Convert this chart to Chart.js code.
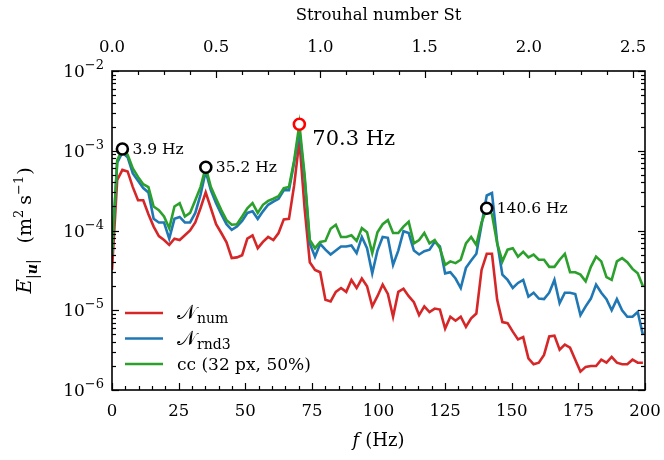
<!DOCTYPE html>
<html>
<head>
<meta charset="utf-8">
<script src="https://cdn.jsdelivr.net/npm/chart.js@4.4.0/dist/chart.umd.min.js"></script>
<style>
  html, body { margin: 0; padding: 0; background: #fff; }
</style>
</head>
<body>
<canvas id="spectrum" width="664" height="460"></canvas>
<script>
// spectral bin spacing of the PSD (Hz)
const binWidth = 500 / 256;
const hzPerSt = 78.2;

// energy spectra E_|u| per bin, starting at 0 Hz
const eNum = [
  3.2e-5, 4.3e-4, 5.75e-4, 5.5e-4, 3.5e-4, 2.4e-4, 2.4e-4, 1.6e-4, 1.12e-4, 8.5e-5,
  7.6e-5, 6.6e-5, 7.9e-5, 7.6e-5, 8.7e-5, 1.0e-4, 1.26e-4, 1.9e-4, 3.0e-4, 1.9e-4,
  1.2e-4, 9.3e-5, 7.1e-5, 4.5e-5, 4.6e-5, 4.9e-5, 7.9e-5, 8.7e-5, 6.0e-5, 7.2e-5,
  8.3e-5, 7.6e-5, 9.3e-5, 1.38e-4, 1.4e-4, 3.7e-4, 1.35e-3, 1.9e-4, 4.0e-5, 3.2e-5,
  3.0e-5, 1.35e-5, 1.29e-5, 1.7e-5, 1.9e-5, 1.7e-5, 2.4e-5, 1.9e-5, 2.5e-5, 2.0e-5,
  1.12e-5, 1.5e-5, 2.1e-5, 1.6e-5, 8.3e-6, 1.7e-5, 1.86e-5, 1.5e-5, 1.26e-5, 8.7e-6,
  1.12e-5, 9.5e-6, 1.05e-5, 1.02e-5, 5.9e-6, 8.3e-6, 7.4e-6, 8.3e-6, 6.2e-6, 7.9e-6,
  9.1e-6, 3.2e-5, 5.1e-5, 5.1e-5, 1.35e-5, 7.1e-6, 6.9e-6, 5.4e-6, 4.3e-6, 4.6e-6,
  2.5e-6, 2.1e-6, 2.2e-6, 2.75e-6, 4.7e-6, 4.8e-6, 3.2e-6, 3.7e-6, 3.4e-6, 2.4e-6,
  1.7e-6, 1.95e-6, 2.0e-6, 2.0e-6, 2.4e-6, 2.2e-6, 2.6e-6, 2.2e-6, 2.1e-6, 2.1e-6,
  2.4e-6, 2.2e-6, 2.2e-6
];
const eRnd3 = [
  5.0e-5, 7.1e-4, 9.5e-4, 8.3e-4, 5.2e-4, 4.2e-4, 3.4e-4, 3.0e-4, 1.4e-4, 1.26e-4,
  1.26e-4, 7.9e-5, 1.4e-4, 1.48e-4, 1.26e-4, 1.26e-4, 1.66e-4, 2.8e-4, 5.5e-4, 3.2e-4,
  2.2e-4, 1.6e-4, 1.2e-4, 1.02e-4, 1.12e-4, 1.32e-4, 1.66e-4, 1.74e-4, 1.4e-4, 1.74e-4,
  2.1e-4, 2.3e-4, 2.5e-4, 3.2e-4, 3.2e-4, 7.1e-4, 1.8e-3, 4.5e-4, 6.9e-5, 4.7e-5,
  6.8e-5, 5.75e-5, 5.0e-5, 5.6e-5, 6.3e-5, 6.3e-5, 6.5e-5, 5.2e-5, 8.3e-5, 6.0e-5,
  2.9e-5, 5.6e-5, 8.3e-5, 8.1e-5, 3.7e-5, 5.6e-5, 9.8e-5, 9.3e-5, 5.6e-5, 5.0e-5,
  5.5e-5, 5.75e-5, 7.2e-5, 6.3e-5, 2.9e-5, 3.0e-5, 2.5e-5, 1.9e-5, 3.4e-5, 4.2e-5,
  5.1e-5, 1.18e-4, 2.75e-4, 2.95e-4, 7.1e-5, 2.8e-5, 2.4e-5, 1.9e-5, 2.2e-5, 2.4e-5,
  1.48e-5, 1.66e-5, 1.4e-5, 1.38e-5, 1.66e-5, 2.4e-5, 1.23e-5, 1.66e-5, 1.66e-5, 1.6e-5,
  8.7e-6, 1.12e-5, 1.4e-5, 2.1e-5, 1.66e-5, 1.38e-5, 1.0e-5, 1.38e-5, 1.0e-5, 8.3e-6,
  8.3e-6, 9.5e-6, 4.9e-6
];
const eCC = [
  5.0e-5, 7.6e-4, 1.05e-3, 8.9e-4, 6.0e-4, 4.7e-4, 3.8e-4, 3.5e-4, 2.0e-4, 1.8e-4,
  1.5e-4, 1.07e-4, 2.0e-4, 2.2e-4, 1.5e-4, 1.66e-4, 2.4e-4, 3.5e-4, 6.2e-4, 3.5e-4,
  2.5e-4, 1.8e-4, 1.35e-4, 1.18e-4, 1.2e-4, 1.5e-4, 1.9e-4, 2.2e-4, 1.66e-4, 2.1e-4,
  2.35e-4, 2.5e-4, 2.7e-4, 3.4e-4, 3.5e-4, 7.6e-4, 2.15e-3, 5.0e-4, 7.6e-5, 6.0e-5,
  7.2e-5, 7.4e-5, 1.05e-4, 1.18e-4, 8.3e-5, 8.3e-5, 8.7e-5, 7.4e-5, 1.07e-4, 9.5e-5,
  5.2e-5, 9.5e-5, 1.2e-4, 1.35e-4, 9.3e-5, 9.3e-5, 1.12e-4, 1.29e-4, 6.9e-5, 7.6e-5,
  9.3e-5, 6.9e-5, 7.6e-5, 6.0e-5, 3.7e-5, 4.1e-5, 3.9e-5, 4.3e-5, 6.9e-5, 8.3e-5,
  6.6e-5, 1.26e-4, 1.9e-4, 1.6e-4, 6.9e-5, 4.1e-5, 5.75e-5, 6.0e-5, 4.7e-5, 5.4e-5,
  4.6e-5, 5.0e-5, 4.3e-5, 4.3e-5, 3.5e-5, 3.5e-5, 4.3e-5, 5.1e-5, 3.0e-5, 3.0e-5,
  2.8e-5, 2.3e-5, 3.5e-5, 4.7e-5, 4.1e-5, 2.6e-5, 2.4e-5, 4.1e-5, 4.5e-5, 4.0e-5,
  3.3e-5, 2.9e-5, 2.0e-5
];

// highlighted peaks
const peakFreqs = [3.9, 35.2, 70.3, 140.6];
const peakValues = [1.05e-3, 6.2e-4, 2.15e-3, 1.9e-4];
const peakLabels = ['3.9 Hz', '35.2 Hz', '70.3 Hz', '140.6 Hz'];
const peakColors = ['#000000', '#000000', '#ff0000', '#000000'];

// axis ticks
const hzTicks = [0, 25, 50, 75, 100, 125, 150, 175, 200];
const stTicks = [0, 0.5, 1.0, 1.5, 2.0, 2.5];
const decadeExps = [-2, -3, -4, -5, -6];

const freqs = eNum.map((_, i) => i * binWidth);
const toXY = arr => arr.map((v, i) => ({ x: freqs[i], y: v }));

const SERIF = '"DejaVu Serif", "Liberation Serif", serif';
const RED = '#d62728', BLUE = '#1f77b4', GREEN = '#2ca02c';

// draw a run of text pieces, each with its own font and vertical offset
function drawRuns(ctx, runs, x, y) {
  let cx = x;
  for (const r of runs) {
    ctx.font = r.font;
    ctx.fillText(r.t, cx, y + (r.dy || 0));
    cx += ctx.measureText(r.t).width + (r.gap || 0);
  }
  return cx - x;
}
function runsWidth(ctx, runs) {
  let w = 0;
  for (const r of runs) { ctx.font = r.font; w += ctx.measureText(r.t).width + (r.gap || 0); }
  return w;
}

const framePlugin = {
  id: 'frame',
  afterDraw(chart) {
    const ctx = chart.ctx;
    const { left, right, top, bottom } = chart.chartArea;
    const xs = chart.scales.x, st = chart.scales.x2, ys = chart.scales.y;
    ctx.save();
    ctx.strokeStyle = '#000';
    ctx.fillStyle = '#000';

    // ticks, pointing inward
    ctx.lineWidth = 1.2;
    const seg = (x1, y1, x2, y2) => { ctx.beginPath(); ctx.moveTo(x1, y1); ctx.lineTo(x2, y2); ctx.stroke(); };
    for (let f = 0; f <= 200; f += 5) {
      const px = Math.round(xs.getPixelForValue(f)) + 0.5;
      seg(px, bottom, px, bottom - (f % 25 === 0 ? 7 : 4));
    }
    for (let s = 0; s <= st.max + 1e-9; s += 0.125) {
      const px = Math.round(st.getPixelForValue(s)) + 0.5;
      const major = Math.abs(s / 0.5 - Math.round(s / 0.5)) < 1e-6;
      seg(px, top, px, top + (major ? 7 : 4));
    }
    for (let e = -6; e <= -2; e++) {
      for (let m = 1; m <= 9; m++) {
        const v = m * Math.pow(10, e);
        if (v > 1.0001e-2) break;
        const py = Math.round(ys.getPixelForValue(v)) + 0.5;
        const len = m === 1 ? 7 : 4;
        seg(left, py, left + len, py);
        seg(right, py, right - len, py);
      }
    }

    // frame
    ctx.lineWidth = 1.6;
    ctx.strokeRect(left, top, right - left, bottom - top);

    // tick labels
    ctx.font = '16.5px ' + SERIF;
    ctx.textAlign = 'center';
    ctx.textBaseline = 'alphabetic';
    hzTicks.forEach(f => ctx.fillText(String(f), xs.getPixelForValue(f), bottom + 26));
    stTicks.forEach(s => ctx.fillText(s.toFixed(1), st.getPixelForValue(s), top - 19));
    ctx.textAlign = 'left';
    decadeExps.forEach(e => {
      const runs = [
        { t: '10', font: '17px ' + SERIF },
        { t: '\u2212' + Math.abs(e), font: '13px ' + SERIF, dy: -8 }
      ];
      const w = runsWidth(ctx, runs);
      drawRuns(ctx, runs, left - 8 - w, ys.getPixelForValue(Math.pow(10, e)) + 6);
    });

    // axis titles
    ctx.textAlign = 'center';
    ctx.font = '16.5px ' + SERIF;
    ctx.fillText('Strouhal number St', (left + right) / 2, 20);
    ctx.textAlign = 'left';
    const xTitle = [
      { t: 'f', font: 'italic 18px ' + SERIF, gap: 6 },
      { t: '(Hz)', font: '18px ' + SERIF }
    ];
    drawRuns(ctx, xTitle, (left + right) / 2 - runsWidth(ctx, xTitle) / 2, 446);

    const yTitle = [
      { t: 'E', font: 'italic 20px ' + SERIF },
      { t: '|', font: '14px ' + SERIF, dy: 6 },
      { t: 'u', font: 'italic bold 14px ' + SERIF, dy: 6 },
      { t: '|', font: '14px ' + SERIF, dy: 6, gap: 16 },
      { t: '(m', font: '19px ' + SERIF },
      { t: '2', font: '13px ' + SERIF, dy: -8, gap: 5 },
      { t: 's', font: '19px ' + SERIF },
      { t: '\u22121', font: '13px ' + SERIF, dy: -8, gap: 1 },
      { t: ')', font: '19px ' + SERIF }
    ];
    ctx.save();
    ctx.translate(31, (top + bottom) / 2);
    ctx.rotate(-Math.PI / 2);
    drawRuns(ctx, yTitle, -runsWidth(ctx, yTitle) / 2, 0);
    ctx.restore();

    // peak annotations
    peakFreqs.forEach((f, i) => {
      const px = xs.getPixelForValue(f), py = ys.getPixelForValue(peakValues[i]);
      if (i === 2) {
        ctx.font = '21px ' + SERIF;
        ctx.fillText(peakLabels[i], px + 13, py + 21);
      } else {
        ctx.font = '15.5px ' + SERIF;
        ctx.fillText(peakLabels[i], px + 10, py + 5);
      }
    });

    // legend
    const legend = [
      { color: RED, runs: [{ t: '\u{1D4A9}', font: '20px ' + SERIF, gap: 1 }, { t: 'num', font: '14px ' + SERIF, dy: 4 }] },
      { color: BLUE, runs: [{ t: '\u{1D4A9}', font: '20px ' + SERIF, gap: 1 }, { t: 'rnd3', font: '14px ' + SERIF, dy: 4 }] },
      { color: GREEN, runs: [{ t: 'cc (32 px, 50%)', font: '17px ' + SERIF }] }
    ];
    legend.forEach((item, i) => {
      const ly = 313 + i * 25.5;
      ctx.strokeStyle = item.color;
      ctx.lineWidth = 2.6;
      seg(125, ly, 163, ly);
      ctx.fillStyle = '#000';
      drawRuns(ctx, item.runs, 177, ly + 6);
    });
    ctx.restore();
  }
};

const lineStyle = { borderWidth: 2.6, pointRadius: 0, fill: false, tension: 0 };

new Chart(document.getElementById('spectrum'), {
  type: 'line',
  data: {
    datasets: [
      { label: 'num', data: toXY(eNum), borderColor: RED, order: 3, ...lineStyle },
      { label: 'rnd3', data: toXY(eRnd3), borderColor: BLUE, order: 2, ...lineStyle },
      { label: 'cc (32 px, 50%)', data: toXY(eCC), borderColor: GREEN, order: 1, ...lineStyle },
      {
        label: 'peaks',
        data: peakFreqs.map((f, i) => ({ x: f, y: peakValues[i] })),
        showLine: false,
        pointRadius: 5.5,
        pointBorderWidth: 2.6,
        pointBackgroundColor: '#fff',
        pointBorderColor: peakColors,
        order: 0,
        clip: false
      }
    ]
  },
  options: {
    responsive: false,
    animation: false,
    devicePixelRatio: 1,
    layout: { padding: { left: 112, right: 19, top: 71, bottom: 70 } },
    plugins: { legend: { display: false }, tooltip: { enabled: false } },
    scales: {
      x: { type: 'linear', min: 0, max: 200, display: false },
      x2: { type: 'linear', axis: 'x', position: 'top', min: 0, max: 200 / hzPerSt, display: false },
      y: { type: 'logarithmic', min: 1e-6, max: 1e-2, display: false }
    }
  },
  plugins: [framePlugin]
});
</script>
</body>
</html>
